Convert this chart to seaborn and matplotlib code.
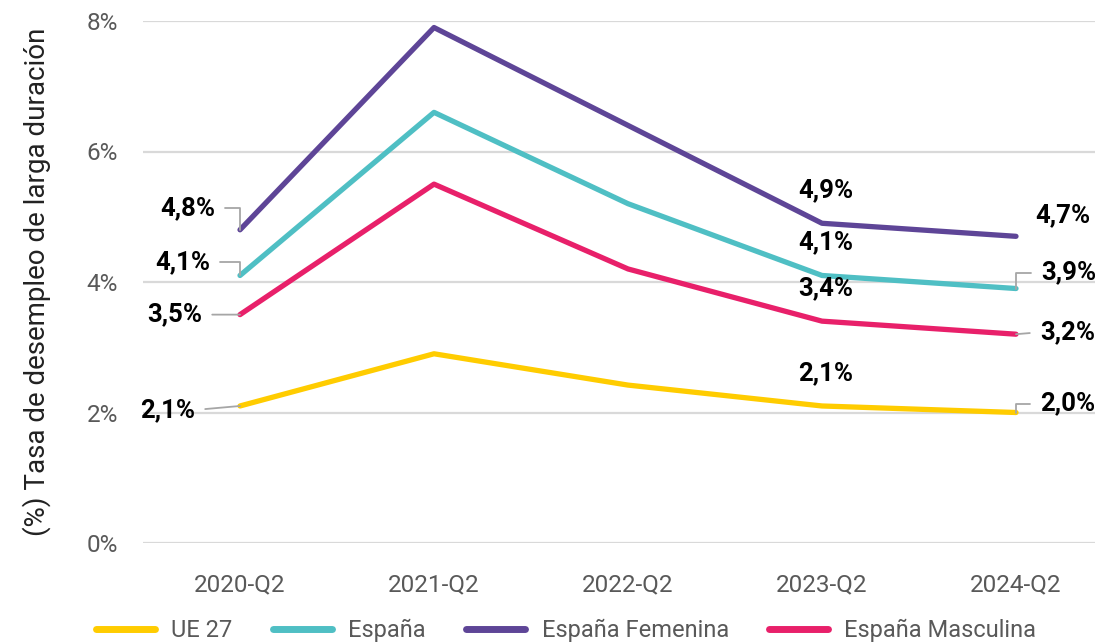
import numpy as np
import pandas as pd
import matplotlib
matplotlib.use("Agg")
import matplotlib.pyplot as plt
import seaborn as sns

periods = ["2020-Q2", "2021-Q2", "2022-Q2", "2023-Q2", "2024-Q2"]

ue27 = [2.1, 2.9, 2.42, 2.1, 2.0]
espana = [4.1, 6.6, 5.2, 4.1, 3.9]
espana_fem = [4.8, 7.9, 6.4, 4.9, 4.7]
espana_masc = [3.5, 5.5, 4.2, 3.4, 3.2]

series_names = ["UE 27", "España", "España Femenina", "España Masculina"]
colors = ["#FFCC00", "#4FBFC4", "#5E4597", "#E8206A"]

df = pd.DataFrame({
    "periodo": periods * 4,
    "serie": np.repeat(series_names, len(periods)),
    "valor": ue27 + espana + espana_fem + espana_masc,
})

sns.set_style("white")
plt.rcParams["font.family"] = ["Roboto", "DejaVu Sans"]

fig = plt.figure(figsize=(10.95, 6.43), dpi=100)
ax = fig.add_axes([143 / 1095, 1 - 543 / 643, 970 / 1095, 522 / 643])

sns.lineplot(
    data=df,
    x="periodo",
    y="valor",
    hue="serie",
    hue_order=series_names,
    palette=colors,
    linewidth=3.8,
    sort=False,
    legend=False,
    ax=ax,
)
for line in ax.lines:
    line.set_solid_capstyle("round")
    line.set_clip_on(False)

ax.set_xlim(-0.5, len(periods) - 0.5)
ax.set_ylim(0, 8)
ax.set_yticks([0, 2, 4, 6, 8])
ax.set_yticklabels(["0%", "2%", "4%", "6%", "8%"])
ax.yaxis.grid(True, color="#d9d9d9", linewidth=1.6)
ax.set_axisbelow(True)
for s in ax.spines.values():
    s.set_visible(False)
ax.tick_params(axis="both", length=0, labelsize=17.5, labelcolor="#595959")
ax.tick_params(axis="y", pad=18)
ax.tick_params(axis="x", pad=22)
ax.set_xlabel("")
ax.set_ylabel("(%) Tasa de desempleo de larga duración", fontsize=20,
              color="#222222", labelpad=26)


def fmt(v):
    return f"{v:.1f}".replace(".", ",") + "%"


leader = "#a6a6a6"
lab_size = 18.5
all_vals = [ue27, espana, espana_fem, espana_masc]

# left labels (2020-Q2): offset in pixels, connection style
left_cfg = [
    ((-45, -4), "arc3"),
    ((-30, 13), "angle,angleA=0,angleB=90,rad=0"),
    ((-25, 22), "angle,angleA=0,angleB=90,rad=0"),
    ((-38, 0), "arc3"),
]
right_cfg = [
    ((24, 9), "angle,angleA=0,angleB=90,rad=0"),
    ((25, 16), "angle,angleA=0,angleB=90,rad=0"),
    ((19, 21), None),
    ((24, 2), "arc3"),
]

for vals, (loff, lcs), (roff, rcs) in zip(all_vals, left_cfg, right_cfg):
    ax.annotate(fmt(vals[0]), xy=(0, vals[0]), xytext=loff,
                textcoords="offset pixels", ha="right", va="center",
                fontsize=lab_size, fontweight="bold", color="black",
                arrowprops=dict(arrowstyle="-", color=leader, lw=1.3,
                                connectionstyle=lcs, relpos=(1, 0.5),
                                shrinkA=5, shrinkB=0))
    ax.annotate(fmt(vals[3]), xy=(3, vals[3]), xytext=(4, 33),
                textcoords="offset pixels", ha="center", va="center",
                fontsize=lab_size, fontweight="bold", color="black")
    props = None
    if rcs is not None:
        props = dict(arrowstyle="-", color=leader, lw=1.3,
                     connectionstyle=rcs, relpos=(0, 0.5),
                     shrinkA=5, shrinkB=0)
    ax.annotate(fmt(vals[4]), xy=(4, vals[4]), xytext=roff,
                textcoords="offset pixels", ha="left", va="center",
                fontsize=lab_size, fontweight="bold", color="black",
                arrowprops=props, annotation_clip=False)

handles = [plt.Line2D([], [], color=c, lw=5, solid_capstyle="round")
           for c in colors]
leg = fig.legend(handles, series_names, loc="center",
                 bbox_to_anchor=(0.517, 0.019), ncol=4, frameon=False,
                 fontsize=17, handlelength=2.5, handletextpad=0.7,
                 columnspacing=1.7)
for t in leg.get_texts():
    t.set_color("#595959")

fig.savefig("out.png", dpi=100)
